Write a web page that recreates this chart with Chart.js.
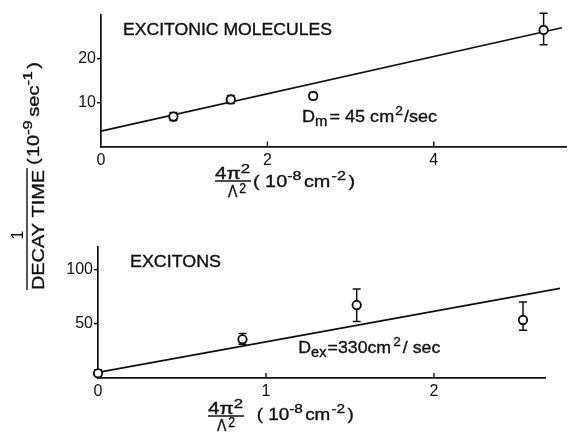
<!DOCTYPE html>
<html><head><meta charset="utf-8">
<script src="https://cdn.jsdelivr.net/npm/chart.js@4.4.0/dist/chart.umd.min.js"></script>
<style>
html,body{margin:0;padding:0;background:#fff;}
#wrap{position:relative;width:573px;height:432px;background:#fff;}
canvas{position:absolute;left:0;top:0;}
</style></head><body>
<div id="wrap"><canvas id="c1" width="573" height="432"></canvas><canvas id="c2" width="573" height="432"></canvas></div>
<script>
// ---------- data: excitonic molecules (top panel) ----------
const molX    = [0.87, 1.56, 2.55, 5.32];
const molY    = [6.8, 10.7, 11.5, 26.5];
const molLow  = [5.9, 9.8, 10.8, 23.1];
const molHigh = [7.7, 11.6, 12.3, 30.3];
const molFitX = [0, 5.54];
const molFitY = [3.5, 27.0];
const molXTicks = [0, 2, 4];
const molYTicks = [10, 20];

// ---------- data: excitons (bottom panel) ----------
const excX    = [0, 0.86, 1.54, 2.53];
const excY    = [4.3, 35.6, 67.2, 53.4];
const excLow  = [1.5, 31, 52, 44];
const excHigh = [7.5, 41, 82, 70];
const excFitX = [0, 2.75];
const excFitY = [5.2, 82.5];
const excXTicks = [0, 1, 2];
const excYTicks = [50, 100];

const FAM = '"Liberation Sans", Arial, sans-serif';
const INK = '#111';

function rich(ctx, x, y, segs, targetW) {
  let w = 0;
  segs.forEach(s => { ctx.font = s[1] + 'px ' + FAM; w += ctx.measureText(s[0]).width + (s[3] || 0); });
  const k = targetW ? targetW / w : 1;
  ctx.save();
  ctx.translate(x, y); ctx.scale(k, 1);
  ctx.fillStyle = INK; ctx.strokeStyle = INK; ctx.lineWidth = 0.35;
  ctx.textAlign = 'left'; ctx.textBaseline = 'alphabetic';
  let cx = 0;
  segs.forEach(s => {
    ctx.font = s[1] + 'px ' + FAM;
    ctx.fillText(s[0], cx, s[2] || 0);
    ctx.strokeText(s[0], cx, s[2] || 0);
    cx += ctx.measureText(s[0]).width + (s[3] || 0);
  });
  ctx.restore();
}
function hline(ctx, x1, x2, y, lw) {
  ctx.save(); ctx.strokeStyle = INK; ctx.lineWidth = lw || 1.4;
  ctx.beginPath(); ctx.moveTo(x1, y); ctx.lineTo(x2, y); ctx.stroke(); ctx.restore();
}
function xLabel(ctx, nx, nb, bw, dx, db, px, pb, pw) {
  // fraction 4π²/Λ² then (10^-8 cm^-2)
  rich(ctx, nx, nb, [['4π', 16, 0, 0], ['2', 13, -6, 0]], bw);
  hline(ctx, nx, nx + bw + 1, nb + 2, 1.3);
  rich(ctx, dx, db, [['Λ', 16, 0, 2], ['2', 14, -4, 0]], 18);
  rich(ctx, px, pb, [['( ', 16, 0, 0], ['10', 16, 0, 0], ['-8', 13, -7, 2], ['cm', 16, 0, 1], ['-2', 13, -7, 2], [')', 16, 0, 0]], pw);
}

function makeDecor(xs, lows, highs, xTicks, drawText) {
  return {
    id: 'decor',
    beforeDatasetsDraw(chart) {
      const ctx = chart.ctx, sx = chart.scales.x, sy = chart.scales.y;
      ctx.save(); ctx.strokeStyle = INK; ctx.lineWidth = 1.5;
      xs.forEach((v, i) => {
        const px = sx.getPixelForValue(v);
        const yl = sy.getPixelForValue(lows[i]), yh = sy.getPixelForValue(highs[i]);
        ctx.beginPath();
        ctx.moveTo(px, yl); ctx.lineTo(px, yh);
        ctx.moveTo(px - 4, yl); ctx.lineTo(px + 4, yl);
        ctx.moveTo(px - 4, yh); ctx.lineTo(px + 4, yh);
        ctx.stroke();
      });
      ctx.restore();
    },
    afterDraw(chart) {
      const ctx = chart.ctx, sx = chart.scales.x, sy = chart.scales.y;
      ctx.save(); ctx.strokeStyle = INK; ctx.lineWidth = 1.4;
      const base = sy.getPixelForValue(0);
      xTicks.forEach(v => {
        if (v === 0) return;
        const px = sx.getPixelForValue(v);
        ctx.beginPath(); ctx.moveTo(px, base); ctx.lineTo(px, base - 5); ctx.stroke();
      });
      ctx.restore();
      drawText(ctx);
    }
  };
}

function makeChart(id, xs, ys, fx, fy, xTicks, yTicks, xmax, ymax, area, plugin) {
  return new Chart(document.getElementById(id), {
    type: 'scatter',
    data: {
      datasets: [
        { data: xs.map((v, i) => ({ x: v, y: ys[i] })), pointRadius: 4.2, pointBorderWidth: 1.9,
          pointBackgroundColor: '#fff', pointBorderColor: INK, showLine: false, clip: false },
        { data: fx.map((v, i) => ({ x: v, y: fy[i] })), showLine: true, pointRadius: 0,
          borderColor: INK, borderWidth: 1.6, clip: false }
      ]
    },
    options: {
      responsive: false, animation: false, devicePixelRatio: 1,
      layout: { padding: { left: 0, right: 573 - area.right, top: area.top, bottom: 0 } },
      plugins: { legend: { display: false }, tooltip: { enabled: false } },
      scales: {
        x: {
          type: 'linear', min: 0, max: xmax,
          afterBuildTicks: s => { s.ticks = xTicks.map(v => ({ value: v })); },
          afterFit: s => { s.height = 432 - area.bottom; },
          ticks: { color: INK, font: { family: FAM, size: 16 }, padding: 4, maxRotation: 0, autoSkip: false },
          grid: { drawOnChartArea: false, drawTicks: false },
          border: { color: INK, width: 1.7 }
        },
        y: {
          type: 'linear', min: 0, max: ymax,
          afterBuildTicks: s => { s.ticks = yTicks.map(v => ({ value: v })); },
          afterFit: s => { s.width = area.left; },
          ticks: { color: INK, font: { family: FAM, size: 16 }, padding: 1 },
          grid: { drawOnChartArea: false, drawTicks: true, tickLength: 4, color: INK, lineWidth: 1.4 },
          border: { color: INK, width: 1.7 }
        }
      }
    },
    plugins: [plugin]
  });
}

// top panel
makeChart('c1', molX, molY, molFitX, molFitY, molXTicks, molYTicks, 5.6, 30,
  { left: 101, right: 571, top: 14.5, bottom: 146.5 },
  makeDecor(molX, molLow, molHigh, molXTicks, ctx => {
    rich(ctx, 123, 35, [['EXCITONIC MOLECULES', 16, 0, 0]], 209);
    rich(ctx, 302, 121.7, [['D', 17, 0, 0], ['m', 14, 4, 2], ['= 45 cm', 17, 0, 1], ['2', 13, -7, 1], ['/sec', 17, 0, 0]], 135);
    xLabel(ctx, 215, 179, 35, 228, 196.5, 253, 187, 102);
  }));

// bottom panel
makeChart('c2', excX, excY, excFitX, excFitY, excXTicks, excYTicks, 2.661, 121,
  { left: 98, right: 545, top: 246.6, bottom: 378 },
  makeDecor(excX, excLow, excHigh, excXTicks, ctx => {
    rich(ctx, 130, 267.3, [['EXCITONS', 16, 0, 0]], 91);
    rich(ctx, 298.3, 353.3, [['D', 17, 0, 0], ['ex', 14, 4, 1], ['=330cm', 17, 0, 2], ['2', 13, -7, 2], ['/ sec', 17, 0, 0]], 142);
    xLabel(ctx, 208, 414, 35, 217, 431, 256.7, 420, 97);
    // shared y-axis title (rotated)
    ctx.save();
    ctx.translate(0, 290);
    ctx.rotate(-Math.PI / 2);
    rich(ctx, 0, 44, [['DECAY TIME', 17, 0, 0]], 120);
    hline(ctx, 0, 122, 27, 1.4);
    ctx.font = '16px ' + FAM; ctx.fillStyle = INK; ctx.textAlign = 'center';
    ctx.fillText('1', 55, 23);
    rich(ctx, 125, 39, [['(', 16, 0, 1], ['10', 16, 0, 0], ['-9', 13, -7, 3], ['sec', 16, 0, 0], ['-1', 13, -7, 2], [')', 16, 0, 0]], 103);
    ctx.restore();
  }));
</script>
</body></html>
